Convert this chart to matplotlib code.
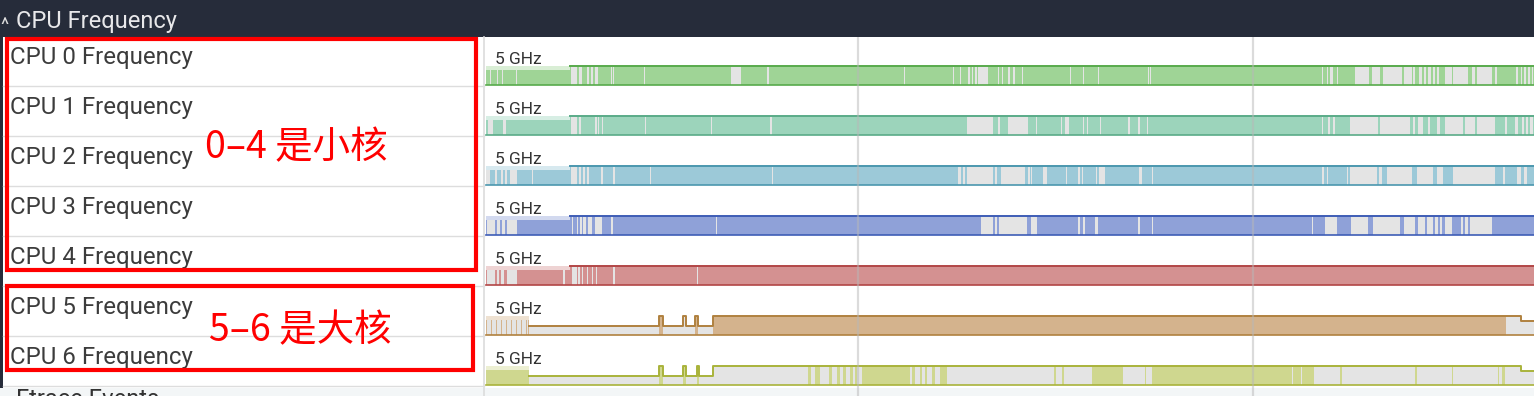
import numpy as np
import matplotlib.pyplot as plt
from matplotlib.patches import Rectangle
from matplotlib.colors import to_rgb

plt.rcParams['font.family'] = ['Roboto', 'DejaVu Sans']

# ---- data (time in seconds, frequency in GHz) ----
cpus = [0, 1, 2, 3, 4, 5, 6]
scale_label = "5 GHz"
t_end = 10.49
full = 4.9
grid_times = [3.73, 7.68]
band_end = [0.85, 0.85, 0.85, 0.85, 0.85, 0.44, 0.44]

cpu0_t = [0.01, 0.85]
cpu0_ghz = [3.9, 4.9]
cpu0_idle = [(0.05, 0.06), (0.12, 0.13), (0.17, 0.18), (0.31, 0.32),
             (0.86, 0.92), (0.94, 0.97), (1.02, 1.04), (1.06, 1.08), (1.10, 1.13),
             (1.26, 1.27), (1.28, 1.29), (1.59, 1.60), (2.46, 2.56), (2.82, 2.84),
             (4.19, 4.20), (4.68, 4.69), (4.75, 4.76), (4.83, 4.85), (4.87, 4.88),
             (4.90, 4.92), (4.93, 5.03), (5.13, 5.14), (5.17, 5.18), (5.23, 5.25),
             (5.28, 5.30), (5.37, 5.38), (5.85, 5.86), (5.98, 5.99), (6.13, 6.14),
             (6.63, 6.64), (6.65, 6.66), (8.37, 8.38), (8.42, 8.43), (8.45, 8.48),
             (8.52, 8.53), (8.70, 8.84), (8.87, 8.95), (8.98, 9.17), (9.19, 9.27),
             (9.28, 9.30), (9.34, 9.37), (9.39, 9.41), (9.43, 9.46), (9.48, 9.50),
             (9.52, 9.54), (9.60, 9.67), (9.68, 9.83), (9.87, 9.90), (9.92, 10.07),
             (10.10, 10.12), (10.31, 10.33), (10.36, 10.37), (10.39, 10.41),
             (10.43, 10.45), (10.47, 10.48)]

cpu1_t = [0.01, 0.85]
cpu1_ghz = [3.9, 4.9]
cpu1_idle = [(0.03, 0.08), (0.18, 0.21), (0.86, 0.92), (0.94, 0.96), (1.10, 1.12),
             (1.13, 1.14), (1.17, 1.18), (1.60, 1.61), (2.26, 2.27), (2.85, 2.87),
             (4.82, 5.08), (5.13, 5.15), (5.23, 5.43), (5.51, 5.52), (5.76, 5.77),
             (5.80, 5.84), (5.98, 5.99), (6.02, 6.03), (6.15, 6.16), (6.43, 6.45),
             (6.53, 6.55), (6.62, 6.63), (8.37, 8.38), (8.43, 8.45), (8.48, 8.50),
             (8.65, 8.93), (8.95, 9.25), (9.28, 9.30), (9.33, 9.38), (9.43, 9.45),
             (9.52, 9.55), (9.60, 9.78), (9.80, 9.90), (9.92, 10.10), (10.20, 10.22),
             (10.30, 10.33), (10.37, 10.39), (10.41, 10.43), (10.45, 10.48)]

cpu2_t = [0.01, 0.85]
cpu2_ghz = [3.9, 4.9]
cpu2_idle = [(0.01, 0.05), (0.10, 0.12), (0.16, 0.18), (0.20, 0.22), (0.25, 0.32),
             (0.47, 0.48), (0.86, 0.92), (0.94, 0.96), (0.98, 1.00), (1.02, 1.04),
             (1.16, 1.18), (1.28, 1.30), (1.65, 1.66), (2.87, 2.88), (4.73, 4.76),
             (4.78, 4.80), (4.82, 5.08), (5.10, 5.12), (5.16, 5.40), (5.43, 5.45),
             (5.46, 5.47), (5.58, 5.62), (5.81, 5.82), (5.93, 5.95), (5.97, 5.98),
             (6.11, 6.12), (6.14, 6.20), (6.54, 6.57), (6.67, 6.68), (8.37, 8.39),
             (8.42, 8.43), (8.62, 8.63), (8.65, 8.92), (8.94, 8.97), (9.02, 9.27),
             (9.32, 9.48), (9.52, 9.58), (9.68, 10.10), (10.18, 10.20), (10.32, 10.36),
             (10.39, 10.42)]

cpu3_t = [0.01, 0.85]
cpu3_ghz = [3.9, 4.9]
cpu3_idle = [(0.02, 0.10), (0.12, 0.15), (0.17, 0.20), (0.22, 0.32), (0.87, 0.88),
             (0.92, 0.93), (0.95, 0.97), (0.98, 1.01), (1.03, 1.07), (1.10, 1.17),
             (1.26, 1.28), (2.31, 2.32), (4.96, 5.08), (5.10, 5.12), (5.14, 5.42),
             (5.46, 5.52), (5.93, 5.95), (5.98, 6.00), (6.10, 6.13), (6.53, 6.55),
             (6.67, 6.68), (8.27, 8.28), (8.40, 8.52), (8.66, 8.83), (8.88, 9.15),
             (9.19, 9.30), (9.33, 9.40), (9.42, 9.48), (9.50, 9.53), (9.55, 9.57),
             (9.60, 9.67), (9.76, 9.78), (9.80, 9.83), (9.85, 10.07)]

cpu4_t = [0.01, 0.85]
cpu4_ghz = [3.9, 4.9]
cpu4_idle = [(0.02, 0.10), (0.12, 0.14), (0.16, 0.19), (0.22, 0.32), (0.78, 0.80),
             (0.87, 0.92), (0.93, 0.95), (0.97, 0.98), (1.02, 1.03), (1.07, 1.08),
             (1.11, 1.12), (1.28, 1.30), (2.12, 2.13)]

cpu5_t = [0.01, 0.44, 1.74, 1.78, 1.98, 2.01, 2.10, 2.13, 2.28, 10.36]
cpu5_ghz = [3.9, 2.4, 4.9, 2.4, 4.9, 2.4, 4.9, 2.4, 4.9, 3.5]
cpu5_idle = [(0.02, 0.06), (0.07, 0.11), (0.12, 0.16), (0.17, 0.21), (0.22, 0.26),
             (0.27, 0.31), (0.32, 0.36), (0.37, 0.41), (0.42, 0.43), (0.44, 1.74),
             (1.78, 2.10), (2.13, 2.28), (10.21, 10.49)]

cpu6_t = [0.01, 0.44, 1.74, 1.78, 1.98, 2.01, 2.12, 2.14, 2.28, 10.36]
cpu6_ghz = [3.9, 2.4, 4.9, 2.4, 4.9, 2.4, 4.9, 2.4, 4.9, 3.5]
cpu6_idle = [(0.44, 1.74), (1.78, 1.98), (2.01, 2.12), (2.14, 3.23), (3.26, 3.30),
             (3.35, 3.44), (3.47, 3.52), (3.55, 3.58), (3.61, 3.65), (3.68, 3.70),
             (3.72, 3.77), (4.25, 4.27), (4.30, 4.35), (4.37, 4.40), (4.42, 4.47),
             (4.50, 4.55), (4.62, 5.69), (5.71, 5.77), (5.79, 6.07), (6.38, 6.60),
             (6.61, 6.67), (8.07, 8.08), (8.16, 8.17), (8.29, 8.55), (8.57, 9.30),
             (9.32, 9.67), (9.68, 10.13), (10.14, 10.17), (10.20, 10.49)]

cpu_t = [cpu0_t, cpu1_t, cpu2_t, cpu3_t, cpu4_t, cpu5_t, cpu6_t]
cpu_ghz = [cpu0_ghz, cpu1_ghz, cpu2_ghz, cpu3_ghz, cpu4_ghz, cpu5_ghz, cpu6_ghz]
cpu_idle = [cpu0_idle, cpu1_idle, cpu2_idle, cpu3_idle, cpu4_idle, cpu5_idle, cpu6_idle]

fills = ['#9fd496', '#9cd4bb', '#9cc9d8', '#8fa1d8', '#d49191', '#d4b38d', '#cfd78f']
edges = ['#58aa4c', '#5aab88', '#4b97ae', '#3e5db6', '#b24646', '#b0813f', '#a9b33b']
idle_color = '#e4e4e4'

little_note = "0–4 是小核"
big_note = "5–6 是大核"

# ---- layout (pixels) ----
W, H = 1534, 396
head_h = 37
row_h = 50
split_x = 485


def rect(x0, y0, x1, y1):
    return [x0 / W, 1 - y1 / H, (x1 - x0) / W, (y1 - y0) / H]


def pale(c, k=0.6):
    r = np.array(to_rgb(c))
    return tuple(r + (1 - r) * k)


def draw_track(ax, t, ghz, idle, b_end, fill, edge):
    t = np.asarray(t, float)
    ghz = np.asarray(ghz, float)
    idle = np.asarray(idle, float)
    cuts = np.unique(np.concatenate([t, idle.ravel(), [t_end]]))
    cuts = cuts[(cuts >= t[0]) & (cuts <= t_end)]
    left = cuts[:-1]
    width = np.diff(cuts)
    level = ghz[np.searchsorted(t, left, side='right') - 1]
    mid = left + width / 2
    off = ((mid[:, None] >= idle[:, 0]) & (mid[:, None] < idle[:, 1])).any(axis=1)
    ax.bar(t[0], full, b_end - t[0], align='edge', color=pale(fill), lw=0)
    ax.bar(left, level, width, align='edge',
           color=[idle_color if o else fill for o in off], lw=0)
    after = t > b_end
    xs = np.concatenate([[b_end], t[after], [t_end]])
    ys = np.concatenate([[ghz[np.searchsorted(t, b_end, side='right') - 1]],
                         ghz[after], [ghz[-1]]])
    ax.step(xs, ys, where='post', color=edge, lw=1.4, clip_on=False)
    ax.plot([t[0], t_end], [0, 0], color=edge, lw=1.2, clip_on=False)


fig = plt.figure(figsize=(W / 100, H / 100), dpi=100)
fig.patch.set_facecolor('white')

# background / chrome
base = fig.add_axes([0, 0, 1, 1], zorder=0)
base.set_xlim(0, W)
base.set_ylim(H, 0)
base.axis('off')
base.add_patch(Rectangle((0, 0), W, head_h, color='#262c3a', lw=0))
base.add_patch(Rectangle((0, head_h), 3, 7 * row_h + 1, color='#262c3a', lw=0))
base.add_patch(Rectangle((0, head_h + 7 * row_h + 1), W, H, color='#f3f6f7', lw=0))
base.plot([split_x - 1, split_x - 1], [head_h, H], color='#dcdcdc', lw=1.2)
base.text(0, 26, "^", color='#dddddd', fontsize=14, va='center', ha='left')
base.text(16, 28, "CPU Frequency", color='#e8e8ea', fontsize=17, va='baseline')
base.text(16, 406, "Ftrace Events", color='#333333', fontsize=17, va='baseline')

for k in cpus:
    top = head_h + k * row_h
    base.plot([3, split_x - 1], [top + row_h - 1] * 2, color='#dddddd', lw=1.0)
    base.text(10, top + 27, f"CPU {k} Frequency", color='#3c3c3c',
              fontsize=17.3, va='baseline')
    base.text(495, top + 27, scale_label, color='#333333', fontsize=12.5,
              va='baseline')

# tracks
for k in cpus:
    top = head_h + k * row_h
    ax = fig.add_axes(rect(split_x, top + 29, W, top + 48), zorder=1)
    ax.set_xlim(0, t_end)
    ax.set_ylim(0, full)
    ax.axis('off')
    draw_track(ax, cpu_t[k], cpu_ghz[k], cpu_idle[k], band_end[k], fills[k], edges[k])

# time grid lines
grid_ax = fig.add_axes(rect(split_x, head_h, W, H), zorder=2)
grid_ax.set_xlim(0, t_end)
grid_ax.set_ylim(0, 1)
grid_ax.axis('off')
for g in grid_times:
    grid_ax.axvline(g, color='#b8b8b8', alpha=0.5, lw=1.6)

# annotations
over = fig.add_axes([0, 0, 1, 1], zorder=5)
over.set_xlim(0, W)
over.set_ylim(H, 0)
over.axis('off')
over.patch.set_alpha(0)
over.add_patch(Rectangle((7, 39), 469, 231, fill=False, ec='#ff0000', lw=3))
over.add_patch(Rectangle((7, 286), 466, 84, fill=False, ec='#ff0000', lw=3))
cjk = ['Noto Sans CJK SC', 'DejaVu Sans']
over.text(296, 148, little_note, color='#ff0000', fontsize=27, family=cjk,
          ha='center', va='center')
over.text(300, 331, big_note, color='#ff0000', fontsize=27, family=cjk,
          ha='center', va='center')

fig.savefig('out.png', dpi=100)
